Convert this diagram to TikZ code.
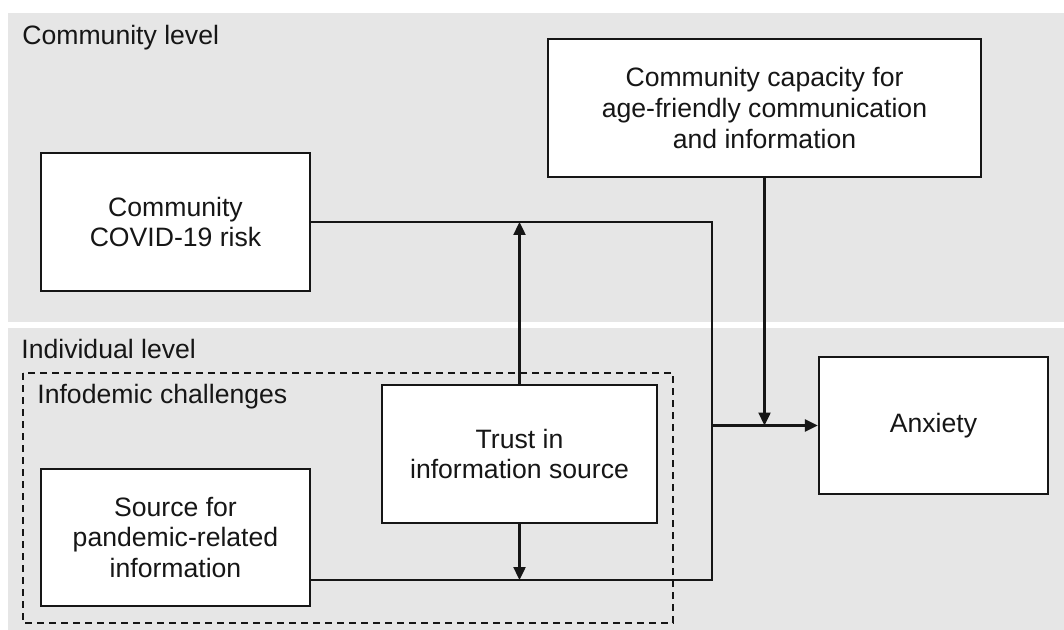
\documentclass[tikz,border=0pt]{standalone}
\usepackage{fontspec}
\setmainfont{Liberation Sans}
\usetikzlibrary{arrows.meta}
\definecolor{bandgray}{RGB}{230,230,230}
\definecolor{inkgray}{RGB}{22,22,22}
\tikzset{
  box/.style={draw=inkgray, fill=white, line width=1.2pt, align=center, inner sep=0pt,
    minimum height=69pt, text=inkgray},
  lbl/.style={anchor=base west, inner sep=0pt, text=inkgray},
  link/.style={draw=inkgray, line width=1.2pt},
  arr/.style={link, -{Triangle[length=6.5pt, width=6pt]}},
  frame/.style={draw=inkgray, line width=1pt, dash pattern=on 3.5pt off 2.5pt}
}
\begin{document}
\begin{tikzpicture}[x=0.5pt, y=-0.5pt, font=\fontsize{13.3}{15.3}\selectfont]
  \useasboundingbox (0,0) rectangle (1064,630);
  \fill[bandgray] (8,13) rectangle (1064,322);
  \fill[bandgray] (8,328) rectangle (1064,630);
  \node(comm)[lbl] at (22,45) {Community level};
  \node(indiv)[lbl] at (21,358) {Individual level};
  \draw[frame] (23,373) rectangle (673,623);
  \node(info)[lbl] at (37,403) {Infodemic challenges};
  \node(cap)[box, minimum width=216.5pt] at (764.5,108) {Community capacity for\\age-friendly communication\\and information};
  \node(covid)[box, minimum width=134.5pt] at (175.5,222) {Community\\COVID-19 risk};
  \node(trust)[box, minimum width=137.5pt] at (519.5,454) {Trust in\\information source};
  \node(src)[box, minimum width=134.5pt, minimum height=68.5pt] at (175.5,537.5) {Source for\\pandemic-related\\information};
  \node(anx)[box, minimum width=114.5pt, minimum height=68.5pt] at (933.5,425.5) {Anxiety};
  \coordinate(jn) at (712,425.5);
  \coordinate(sl) at ([yshift=-21.25pt]src.east);
  \draw[link] (covid.east) -| (jn);
  \draw[link] (sl) -| (jn);
  \draw[arr] (jn) -- (anx.west);
  \draw[arr] (cap.south) -- (cap.south |- jn);
  \draw[arr] (trust.north) -- (trust.north |- covid.east);
  \draw[arr] (trust.south) -- (trust.south |- sl);
  \end{tikzpicture}
\end{document}
